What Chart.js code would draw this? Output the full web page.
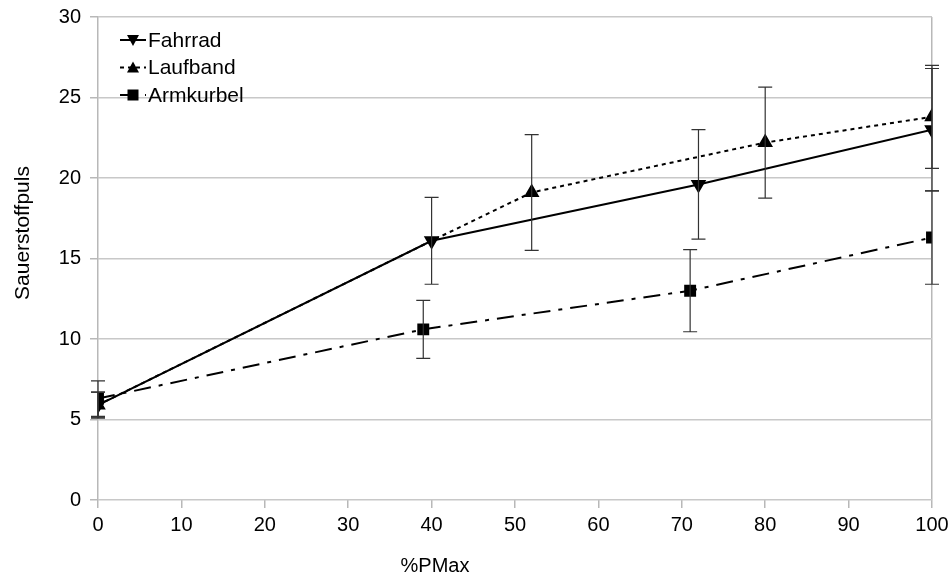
<!DOCTYPE html>
<html>
<head>
<meta charset="utf-8">
<script src="https://cdn.jsdelivr.net/npm/chart.js@4.4.0/dist/chart.umd.min.js"></script>
<style>
  html, body { margin: 0; padding: 0; background: #fff; }
  #wrap { width: 952px; height: 583px; }
</style>
</head>
<body>
<div id="wrap"><canvas id="myChart" width="952" height="583"></canvas></div>
<script>
// DATA
var fahrradX = [0, 40, 72, 100];
var fahrradY = [5.9, 16.1, 19.6, 23.0];
var fahrradErr = [0.8, 2.7, 3.4, 3.8];

var laufbandX = [0, 40, 52, 80, 100];
var laufbandY = [5.9, 16.1, 19.1, 22.2, 23.8];
var laufbandErr = [0.8, 0, 3.6, 3.45, 3.2];

var armkurbelX = [0, 39, 71, 100];
var armkurbelY = [6.3, 10.6, 13.0, 16.3];
var armkurbelErr = [1.1, 1.8, 2.55, 2.9];

var xTicks = [0, 10, 20, 30, 40, 50, 60, 70, 80, 90, 100];
var yTicks = [0, 5, 10, 15, 20, 25, 30];
var xTitle = '%PMax';
var yTitle = 'Sauerstoffpuls';

function pts(xs, ys) {
  var out = [];
  xs.forEach(function (x, i) { out.push({ x: x, y: ys[i] }); });
  return out;
}

var FONT = "'Liberation Sans', Arial, sans-serif";

// SETUP
const data = {
  datasets: [
    {
      label: 'Fahrrad',
      data: pts(fahrradX, fahrradY),
      err: fahrradErr,
      borderColor: '#000',
      backgroundColor: '#000',
      borderWidth: 2,
      pointStyle: 'triangle',
      rotation: 180,
      pointRadius: 7,
      dash: []
    },
    {
      label: 'Laufband',
      data: pts(laufbandX, laufbandY),
      err: laufbandErr,
      borderColor: '#000',
      backgroundColor: '#000',
      borderWidth: 2,
      borderDash: [4, 4],
      pointStyle: 'triangle',
      pointRadius: [7, 0, 7, 7, 7],
      dash: [4, 4]
    },
    {
      label: 'Armkurbel',
      data: pts(armkurbelX, armkurbelY),
      err: armkurbelErr,
      borderColor: '#000',
      backgroundColor: '#000',
      borderWidth: 2,
      borderDash: [17, 8, 4, 8],
      pointStyle: 'rect',
      pointRadius: 7,
      dash: [17, 8, 4, 8]
    }
  ]
};

// error bars drawn through the scales
const errorBars = {
  id: 'errorBars',
  afterDatasetsDraw: function (chart) {
    var ctx = chart.ctx;
    var xs = chart.scales.x, ys = chart.scales.y;
    ctx.save();
    ctx.strokeStyle = '#333';
    ctx.lineWidth = 1.2;
    chart.data.datasets.forEach(function (ds) {
      ds.data.forEach(function (p, i) {
        var e = ds.err[i];
        if (!e) return;
        var px = xs.getPixelForValue(p.x);
        var top = ys.getPixelForValue(p.y + e);
        var bot = ys.getPixelForValue(p.y - e);
        ctx.beginPath();
        ctx.moveTo(px, top); ctx.lineTo(px, bot);
        ctx.moveTo(px - 7, top); ctx.lineTo(px + 7, top);
        ctx.moveTo(px - 7, bot); ctx.lineTo(px + 7, bot);
        ctx.stroke();
      });
    });
    ctx.restore();
  }
};

// legend inside plot, top-left, plus axis titles
const innerLegend = {
  id: 'innerLegend',
  afterDraw: function (chart) {
    var ctx = chart.ctx;
    var ca = chart.chartArea;
    var x0 = ca.left + 22;
    var y0 = ca.top + 23;
    ctx.save();
    ctx.font = '21px ' + FONT;
    ctx.textBaseline = 'middle';
    chart.data.datasets.forEach(function (ds, i) {
      var y = y0 + i * 27.5;
      ctx.strokeStyle = '#000';
      ctx.lineWidth = 2;
      ctx.setLineDash(ds.dash);
      ctx.beginPath();
      ctx.moveTo(x0, y); ctx.lineTo(x0 + 26, y);
      ctx.stroke();
      ctx.setLineDash([]);
      ctx.fillStyle = '#000';
      var cx = x0 + 13;
      ctx.beginPath();
      if (ds.label === 'Fahrrad') {
        ctx.moveTo(cx - 6, y - 5); ctx.lineTo(cx + 6, y - 5); ctx.lineTo(cx, y + 6);
      } else if (ds.label === 'Laufband') {
        ctx.moveTo(cx - 6, y + 5); ctx.lineTo(cx + 6, y + 5); ctx.lineTo(cx, y - 6);
      } else {
        ctx.rect(cx - 5.5, y - 5.5, 11, 11);
      }
      ctx.closePath();
      ctx.fill();
      ctx.fillText(ds.label, x0 + 28, y + 1);
    });

    // axis titles
    ctx.font = '20px ' + FONT;
    ctx.textAlign = 'center';
    ctx.fillText(xTitle, 435, 566);
    ctx.translate(23, 233);
    ctx.rotate(-Math.PI / 2);
    ctx.font = '21px ' + FONT;
    ctx.fillText(yTitle, 0, 0);
    ctx.restore();
  }
};

//CONFIG
const config = {
  type: 'line',
  data: data,
  plugins: [errorBars, innerLegend],
  options: {
    responsive: false,
    animation: false,
    layout: { padding: { top: 17, right: 20, left: 0, bottom: 0 } },
    plugins: {
      legend: { display: false },
      tooltip: { enabled: false }
    },
    scales: {
      x: {
        type: 'linear',
        min: 0, max: 100,
        afterBuildTicks: function (s) { s.ticks = xTicks.map(function (v) { return { value: v }; }); },
        afterFit: function (s) { s.height = 83; s.paddingLeft = 0; s.paddingRight = 0; },
        border: { display: false },
        grid: {
          color: function (c) { return (c.tick && (c.tick.value === 0 || c.tick.value === 100)) ? '#b8b8b8' : 'rgba(0,0,0,0)'; },
          tickColor: '#b8b8b8',
          tickLength: 8,
          lineWidth: 1.5
        },
        ticks: { color: '#000', font: { family: FONT, size: 20 }, padding: 5, maxRotation: 0 },
        title: { display: false }
      },
      y: {
        min: 0, max: 30,
        afterBuildTicks: function (s) { s.ticks = yTicks.map(function (v) { return { value: v }; }); },
        afterFit: function (s) { s.width = 98; s.paddingTop = 0; s.paddingBottom = 0; },
        border: { display: false },
        grid: { color: '#c8c8c8', tickColor: '#b8b8b8', tickLength: 8, lineWidth: 1.5 },
        ticks: { color: '#000', font: { family: FONT, size: 20 }, padding: 9 },
        title: { display: false }
      }
    }
  }
};

//Render
const myChart = new Chart(document.getElementById('myChart'), config);
</script>
</body>
</html>
